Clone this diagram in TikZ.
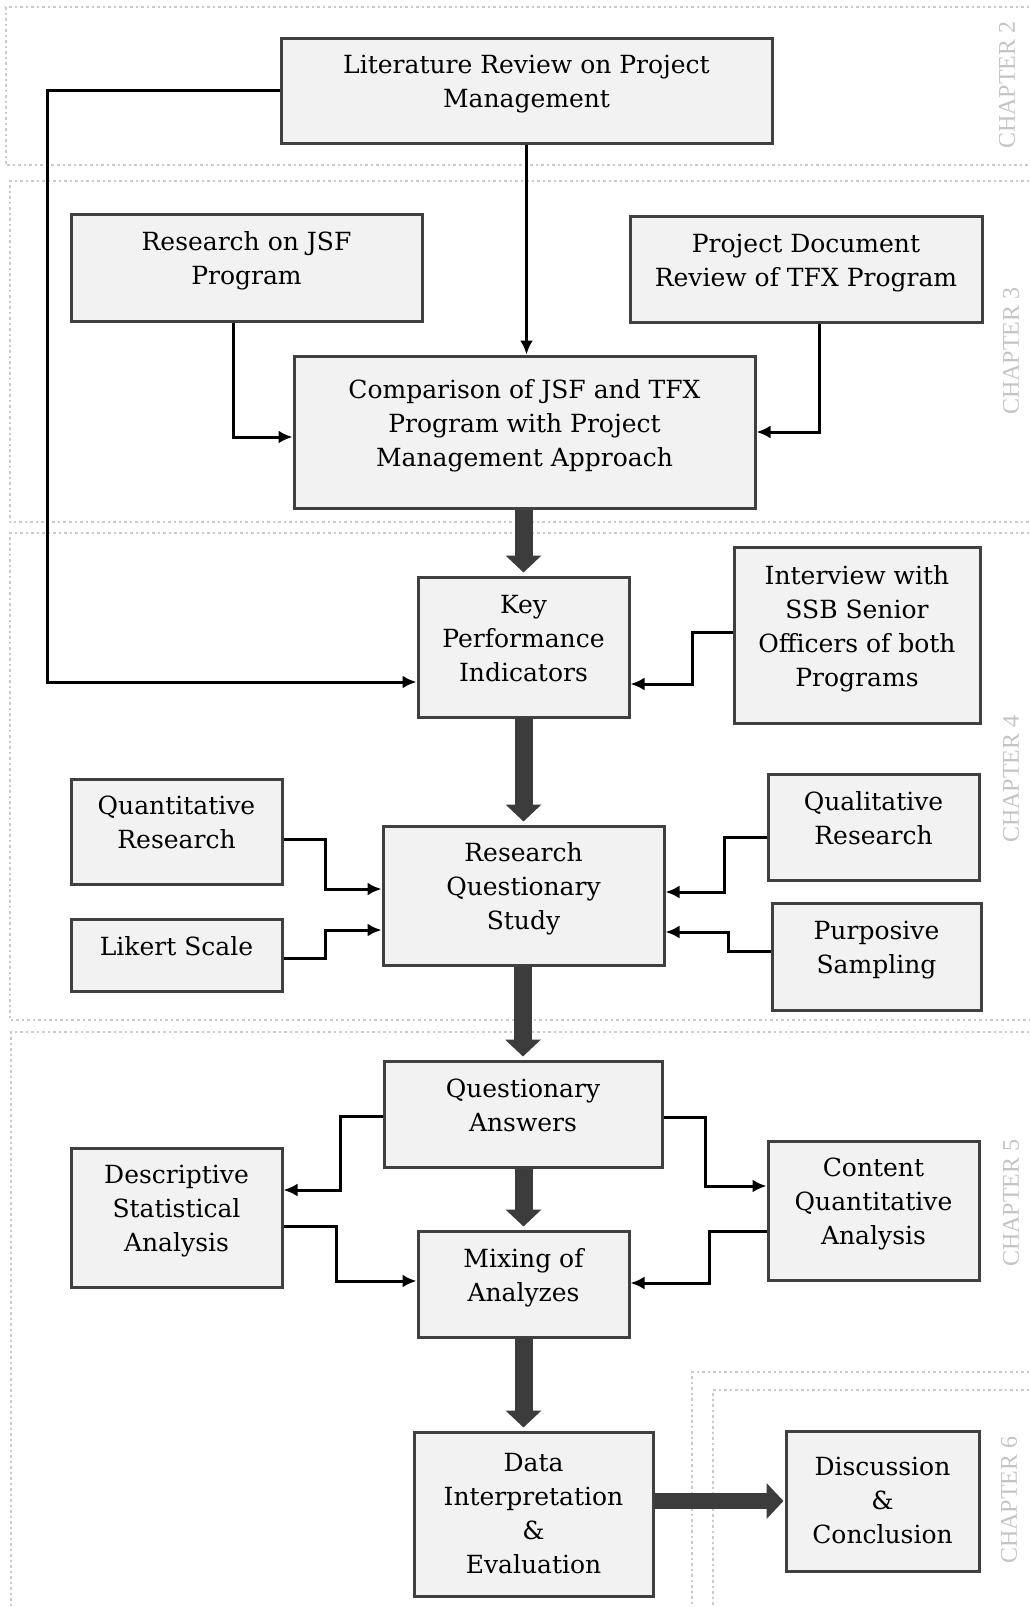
\documentclass[tikz,border=0pt]{standalone}
\usepackage{fontspec}
\setmainfont{DejaVu Serif}
\newfontfamily\chapfont{Liberation Serif}
\usetikzlibrary{arrows.meta}
\definecolor{boxline}{HTML}{404040}
\definecolor{boxfill}{HTML}{F2F2F2}
\definecolor{thickc}{HTML}{3C3C3C}
\definecolor{framec}{HTML}{CACACA}
\definecolor{chapc}{HTML}{C4C4C4}
\newcommand\ctext[2][13pt]{\begin{tabular}{@{}c@{}}#2\\[#1]\end{tabular}}
\begin{document}
\begin{tikzpicture}[x=1pt,y=-1pt,
  pbox/.style={draw=boxline, line width=3pt, fill=boxfill, inner sep=0pt, font=\fontsize{25}{34}\selectfont},
  conn/.style={draw=black, line width=3pt, -{Latex[length=14pt,width=13pt]}},
  bigarrow/.style={draw=thickc, line width=18pt, -{Triangle[length=17pt,width=35pt]}, shorten >=3pt},
  chapframe/.style={draw=framec, line width=2pt, dash pattern=on 2.5pt off 3pt},
  chap/.style={font=\chapfont\fontsize{24}{24}\selectfont, text=chapc, rotate=90, inner sep=0pt}]
\useasboundingbox (0,0) rectangle (1030,1607);
\clip (0,0) rectangle (1030,1607);
% chapter frames
\draw[chapframe] (1040,7) -- (6,7) -- (6,165) -- (1040,165);
\draw[chapframe] (1040,181) -- (10,181) -- (10,522) -- (1040,522);
\draw[chapframe] (1040,533) -- (10,533) -- (10,1020) -- (1040,1020);
\draw[chapframe] (1040,1032) -- (11,1032) -- (11,1620);
\draw[chapframe] (1040,1372) -- (692,1372) -- (692,1620);
\draw[chapframe] (1040,1390) -- (713,1390) -- (713,1620);
% chapter labels
\node[chap] (c2) at (1007,85) {CHAPTER 2};
\node[chap] (c3) at (1011,351) {CHAPTER 3};
\node[chap] (c4) at (1011,779) {CHAPTER 4};
\node[chap] (c5) at (1011,1203) {CHAPTER 5};
\node[chap] (c6) at (1009,1500) {CHAPTER 6};
% boxes
\node[pbox, minimum width=491pt, minimum height=105pt] (lit) at (526.5,90.5) {\ctext{Literature Review on Project\\Management}};
\node[pbox, minimum width=351pt, minimum height=107pt] (jsf) at (246.5,267.5) {\ctext{Research on JSF\\Program}};
\node[pbox, minimum width=352pt, minimum height=106pt] (tfx) at (806,269) {\ctext{Project Document\\Review of TFX Program}};
\node[pbox, minimum width=461pt, minimum height=152pt] (cmp) at (524.5,432) {\ctext{Comparison of JSF and TFX\\Program with Project\\Management Approach}};
\node[pbox, minimum width=211pt, minimum height=140pt] (kpi) at (523.5,647) {\ctext{Key\\Performance\\Indicators}};
\node[pbox, minimum width=246pt, minimum height=176pt] (intv) at (857,635) {\ctext{Interview with\\SSB Senior\\Officers of both\\Programs}};
\node[pbox, minimum width=211pt, minimum height=105pt] (quant) at (176.5,831.5) {\ctext{Quantitative\\Research}};
\node[pbox, minimum width=211pt, minimum height=72pt] (likert) at (176.5,955) {\ctext{Likert Scale}};
\node[pbox, minimum width=281pt, minimum height=139pt] (rqs) at (523.5,895.5) {\ctext{Research\\Questionary\\Study}};
\node[pbox, minimum width=211pt, minimum height=106pt] (qual) at (873.5,827) {\ctext{Qualitative\\Research}};
\node[pbox, minimum width=209pt, minimum height=107pt] (purp) at (876.5,956.5) {\ctext{Purposive\\Sampling}};
\node[pbox, minimum width=278pt, minimum height=106pt] (qa) at (523,1114) {\ctext{Questionary\\Answers}};
\node[pbox, minimum width=211pt, minimum height=139pt] (desc) at (176.5,1217.5) {\ctext{Descriptive\\Statistical\\Analysis}};
\node[pbox, minimum width=211pt, minimum height=139pt] (cont) at (873.5,1210.5) {\ctext{Content\\Quantitative\\Analysis}};
\node[pbox, minimum width=211pt, minimum height=106pt] (mix) at (523.5,1284) {\ctext{Mixing of\\Analyzes}};
\node[pbox, minimum width=239pt, minimum height=164pt] (data) at (533.5,1514) {\ctext[-4pt]{Data\\Interpretation\\\&\\Evaluation}};
\node[pbox, minimum width=193pt, minimum height=140pt] (disc) at (882.5,1501) {\ctext[-4pt]{Discussion\\\&\\Conclusion}};
% helper coordinates
\coordinate (a1) at (47,682);
\coordinate (j1) at (233,437);
\coordinate (j2) at (819,432);
\coordinate (i1) at (692,632);
\coordinate (i2) at (692,684);
\coordinate (q1) at (325,839);
\coordinate (q2) at (325,889);
\coordinate (l1) at (325,958);
\coordinate (l2) at (325,930);
\coordinate (u1) at (724,837);
\coordinate (u2) at (724,892);
\coordinate (p1) at (728,951);
\coordinate (p2) at (728,932);
\coordinate (d1) at (340,1116);
\coordinate (d2) at (340,1190);
\coordinate (e1) at (336,1226);
\coordinate (e2) at (336,1281);
\coordinate (f1) at (705,1117);
\coordinate (f2) at (705,1186);
\coordinate (g1) at (709,1231);
\coordinate (g2) at (709,1283);
% thin connectors
\draw[conn] (lit.west) -| (a1) -- (kpi.west |- a1);
\draw[conn] (lit.south) -- (lit.south |- cmp.north);
\draw[conn] (jsf.south -| j1) |- (cmp.west |- j1);
\draw[conn] (tfx.south -| j2) |- (cmp.east |- j2);
\draw[conn] (intv.west |- i1) -- (i1) -- (i2) -- (kpi.east |- i2);
\draw[conn] (quant.east |- q1) -- (q1) -- (q2) -- (rqs.west |- q2);
\draw[conn] (likert.east |- l1) -- (l1) -- (l2) -- (rqs.west |- l2);
\draw[conn] (qual.west |- u1) -- (u1) -- (u2) -- (rqs.east |- u2);
\draw[conn] (purp.west |- p1) -- (p1) -- (p2) -- (rqs.east |- p2);
\draw[conn] (qa.west |- d1) -- (d1) -- (d2) -- (desc.east |- d2);
\draw[conn] (desc.east |- e1) -- (e1) -- (e2) -- (mix.west |- e2);
\draw[conn] (qa.east |- f1) -- (f1) -- (f2) -- (cont.west |- f2);
\draw[conn] (cont.west |- g1) -- (g1) -- (g2) -- (mix.east |- g2);
% thick arrows
\draw[bigarrow] (cmp.south -| kpi.north) -- (kpi.north);
\draw[bigarrow] (kpi.south) -- (rqs.north);
\draw[bigarrow] (rqs.south -| qa.north) -- (qa.north);
\draw[bigarrow] (qa.south -| mix.north) -- (mix.north);
\draw[bigarrow] (mix.south) -- (mix.south |- data.north);
\draw[bigarrow, line width=16pt, shorten >=1pt] (data.east |- disc.west) -- (disc.west);
\end{tikzpicture}
\end{document}
